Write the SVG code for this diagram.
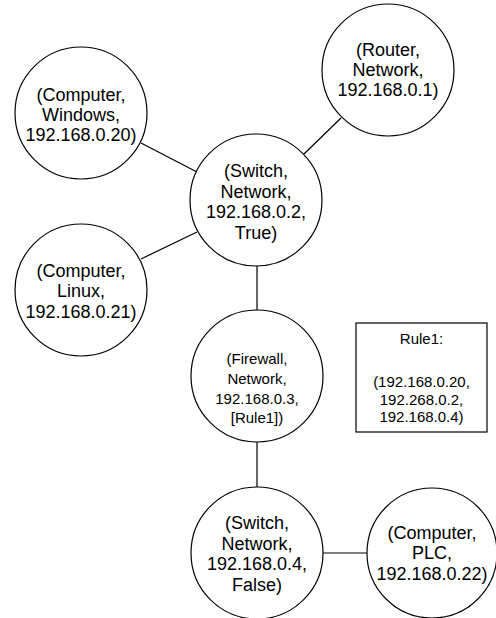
<svg xmlns="http://www.w3.org/2000/svg" width="496" height="618" viewBox="0 0 496 618">
<style>
.n{fill:#fff;stroke:#000;stroke-width:1.2}
.e{stroke:#000;stroke-width:1.2;fill:none}
text{font-family:"Liberation Sans",Arial,sans-serif;fill:#000;text-anchor:middle}
.t18{font-size:18px}
.t15{font-size:15px}
</style>
<rect width="496" height="618" fill="#fff"/>
<g id="connectors">
<line class="e" x1="141" y1="143" x2="197" y2="172"/>
<line class="e" x1="341" y1="118" x2="304" y2="154"/>
<line class="e" x1="141" y1="259" x2="197" y2="232"/>
<line class="e" x1="257" y1="266" x2="257" y2="310"/>
<line class="e" x1="257" y1="442" x2="257" y2="487"/>
<line class="e" x1="323" y1="553" x2="367" y2="553"/>
</g>
<g id="router">
<circle class="n" cx="388" cy="70" r="66"/>
<text class="t18" x="388"><tspan x="388" y="56">(Router,</tspan><tspan x="388" y="76">Network,</tspan><tspan x="388" y="96">192.168.0.1)</tspan></text>
</g>
<g id="windows">
<circle class="n" cx="81" cy="113" r="66"/>
<text class="t18"><tspan x="81" y="101">(Computer,</tspan><tspan x="81" y="121">Windows,</tspan><tspan x="81" y="141">192.168.0.20)</tspan></text>
</g>
<g id="switch1">
<circle class="n" cx="256" cy="200" r="66"/>
<text class="t18"><tspan x="256" y="177">(Switch,</tspan><tspan x="256" y="197.5">Network,</tspan><tspan x="256" y="218">192.168.0.2,</tspan><tspan x="256" y="239">True)</tspan></text>
</g>
<g id="linux">
<circle class="n" cx="81" cy="290" r="66"/>
<text class="t18"><tspan x="81" y="277">(Computer,</tspan><tspan x="81" y="297">Linux,</tspan><tspan x="81" y="318">192.168.0.21)</tspan></text>
</g>
<g id="firewall">
<circle class="n" cx="257" cy="376" r="66"/>
<text class="t15"><tspan x="257" y="364">(Firewall,</tspan><tspan x="257" y="384">Network,</tspan><tspan x="257" y="404">192.168.0.3,</tspan><tspan x="257" y="423">[Rule1])</tspan></text>
</g>
<g id="rule1">
<rect class="n" x="356" y="323" width="131" height="109"/>
<text class="t15"><tspan x="421.5" y="344">Rule1:</tspan><tspan x="421.5" y="387">(192.168.0.20,</tspan><tspan x="421.5" y="404.5">192.268.0.2,</tspan><tspan x="421.5" y="422">192.168.0.4)</tspan></text>
</g>
<g id="switch2">
<circle class="n" cx="257" cy="553" r="66"/>
<text class="t18"><tspan x="257" y="529">(Switch,</tspan><tspan x="257" y="549.5">Network,</tspan><tspan x="257" y="570">192.168.0.4,</tspan><tspan x="257" y="591">False)</tspan></text>
</g>
<g id="plc">
<circle class="n" cx="432" cy="553" r="65"/>
<text class="t18"><tspan x="432" y="539">(Computer,</tspan><tspan x="432" y="559">PLC,</tspan><tspan x="432" y="580">192.168.0.22)</tspan></text>
</g>
</svg>
